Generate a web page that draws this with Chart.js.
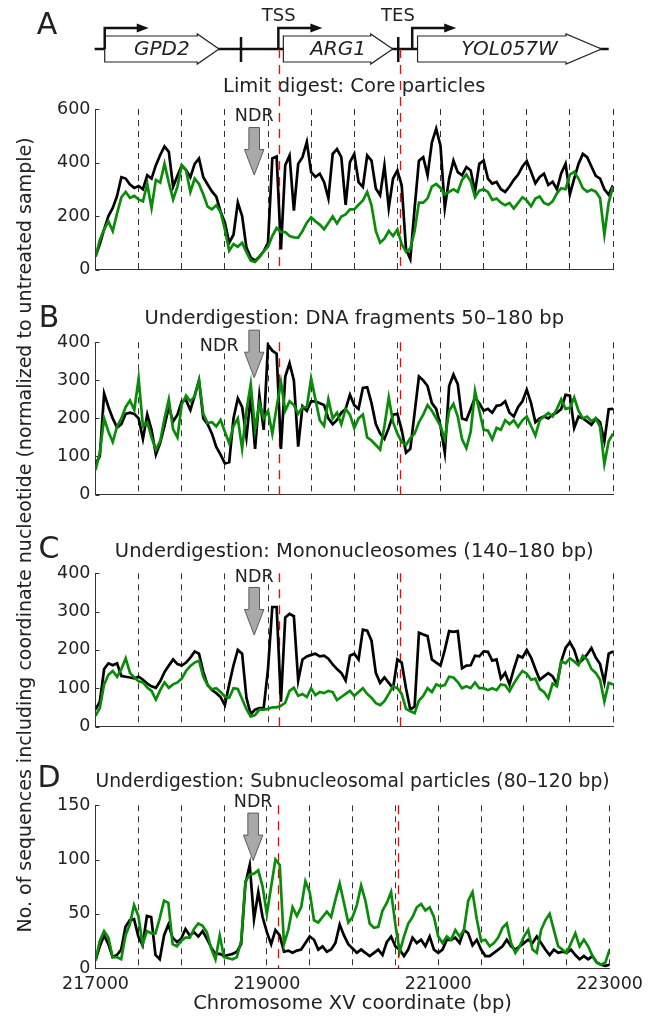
<!DOCTYPE html>
<html>
<head>
<meta charset="utf-8">
<script src="https://cdn.jsdelivr.net/npm/chart.js@4.4.0/dist/chart.umd.min.js"></script>
<style>
	html, body { margin: 0; padding: 0; background: #fff; }
	#page { position: relative; width: 649px; height: 1016px; overflow: hidden; font-family: "DejaVu Sans", sans-serif; color: #222; }
	.panel { position: absolute; left: 0; }
	.letter { position: absolute; font-size: 30px; line-height: 1; transform: translate(-50%, -50%); }
	#ylabel { position: absolute; left: 24px; top: 535px; white-space: nowrap; font-size: 19px; line-height: 1; transform: translate(-50%, -50%) rotate(-90deg); }
</style>
</head>
<body>
<div id="page">
	<canvas id="chartA" class="panel" width="649" height="285" style="top:0px"></canvas>
	<canvas id="chartB" class="panel" width="649" height="215" style="top:295px"></canvas>
	<canvas id="chartC" class="panel" width="649" height="217" style="top:525px"></canvas>
	<canvas id="chartD" class="panel" width="649" height="259" style="top:757px"></canvas>
	<div class="letter" style="left:47px; top:24px">A</div>
	<div class="letter" style="left:49px; top:317px">B</div>
	<div class="letter" style="left:49px; top:548px">C</div>
	<div class="letter" style="left:49px; top:777px">D</div>
	<div id="ylabel">No. of sequences including coordinate nucleotide (normalized to untreated sample)</div>
</div>
<script>
// chromosome XV positions, one reading every 50 bp
const coordStart = 217000;
const coordStep = 50;
const coords = Array.from({ length: 121 }, (_, i) => coordStart + coordStep * i);

// A: limit digest, core particles
const coreBlack = [
	48, 95, 150, 200, 230, 275, 345, 340, 318, 305,
	312, 300, 352, 340, 390, 428, 460, 440, 310, 350,
	389, 372, 345, 395, 415, 345, 318, 292, 272, 217,
	175, 100, 130, 250, 200, 82, 45, 33, 48, 68,
	100, 415, 422, 75, 390, 426, 220, 395, 420, 477,
	364, 346, 358, 327, 266, 432, 450, 420, 242, 401,
	432, 327, 309, 426, 407, 303, 278, 389, 230, 340,
	370, 315, 76, 39, 230, 407, 420, 352, 475, 526,
	462, 230, 340, 407, 364, 352, 383, 370, 291, 395,
	407, 340, 321, 327, 300, 290, 310, 335, 355, 385,
	405, 365, 322, 346, 358, 316, 328, 300, 360, 395,
	280, 340, 395, 432, 420, 385, 350, 340, 300, 280,
	315,
];
const coreGreen = [
	48, 110, 150, 180, 144, 210, 270, 290, 268, 275,
	262, 255, 320, 230, 335, 325, 395, 325, 262, 310,
	390, 370, 290, 340, 320, 280, 235, 225, 240, 215,
	150, 70, 95, 85, 100, 65, 33, 28, 45, 68,
	85, 125, 155, 140, 140, 125, 120, 119, 144, 175,
	195, 180, 168, 150, 174, 198, 172, 198, 206, 225,
	225, 242, 258, 290, 240, 144, 100, 115, 144, 125,
	150, 95, 66, 78, 144, 250, 250, 266, 310, 320,
	305, 280, 290, 300, 290, 335, 355, 330, 270, 295,
	300, 290, 260, 265, 250, 240, 249, 228, 249, 270,
	258, 236, 265, 273, 249, 242, 255, 285, 304, 300,
	355, 365, 340, 304, 291, 298, 291, 267, 130, 250,
	310,
];

// B: underdigestion, DNA fragments 50-180 bp
const fragBlack = [
	80, 100, 265, 230, 200, 176, 185, 212, 215, 212,
	200, 146, 210, 170, 105, 136, 180, 230, 192, 210,
	245, 248, 222, 260, 300, 200, 185, 160, 125, 105,
	82, 85, 200, 253, 230, 150, 260, 120, 260, 170,
	393, 378, 370, 120, 310, 345, 300, 126, 232, 220,
	245, 245, 240, 235, 200, 185, 196, 215, 225, 262,
	235, 225, 280, 282, 240, 185, 160, 146, 175, 210,
	212, 170, 110, 120, 215, 310, 300, 285, 240, 225,
	180, 110, 285, 315, 290, 200, 196, 225, 255, 240,
	220, 225, 215, 233, 235, 245, 215, 205, 230, 245,
	275, 240, 190, 200, 205, 200, 210, 215, 225, 262,
	260, 175, 205, 200, 192, 183, 200, 190, 140, 224,
	225,
];
const fragGreen = [
	64, 110, 200, 165, 138, 179, 200, 230, 247, 222,
	305, 179, 190, 150, 118, 140, 200, 250, 171, 150,
	237, 260, 245, 258, 300, 212, 188, 190, 179, 196,
	165, 135, 180, 200, 120, 220, 290, 170, 240, 200,
	220, 160, 230, 295, 220, 245, 235, 212, 229, 230,
	305, 250, 195, 180, 250, 200, 215, 185, 225, 210,
	175, 200, 210, 150, 142, 130, 118, 180, 255, 190,
	160, 138, 130, 148, 160, 190, 210, 235, 220, 200,
	180, 145, 220, 238, 205, 145, 122, 165, 272, 220,
	170, 168, 145, 175, 170, 195, 185, 195, 178, 195,
	205, 180, 155, 195, 205, 214, 205, 225, 250, 225,
	228, 255, 220, 200, 205, 193, 200, 178, 80, 140,
	160,
];

// C: underdigestion, mononucleosomes 140-180 bp
const monoBlack = [
	44, 65, 150, 165, 160, 165, 132, 130, 128, 126,
	130, 122, 112, 105, 101, 118, 142, 159, 175, 163,
	159, 167, 180, 196, 190, 142, 108, 95, 87, 77,
	56, 110, 160, 200, 190, 75, 32, 44, 48, 48,
	150, 312, 312, 65, 285, 294, 288, 120, 175, 183,
	187, 190, 183, 185, 177, 162, 150, 140, 120, 185,
	190, 175, 253, 250, 224, 140, 114, 128, 114, 100,
	175, 167, 100, 44, 52, 245, 240, 236, 175, 167,
	159, 200, 249, 247, 249, 152, 159, 160, 185, 183,
	196, 195, 172, 175, 125, 140, 110, 150, 185, 180,
	200, 180, 150, 122, 131, 139, 131, 110, 170, 205,
	220, 200, 165, 175, 188, 205, 180, 163, 115, 190,
	196,
];
const monoGreen = [
	28, 48, 110, 135, 145, 130, 150, 178, 140, 128,
	118, 115, 102, 93, 70, 95, 115, 101, 110, 115,
	125, 145, 158, 167, 172, 130, 108, 97, 100, 90,
	78, 75, 100, 98, 72, 45, 26, 30, 44, 44,
	46, 50, 50, 54, 62, 93, 101, 80, 85, 77,
	100, 82, 90, 87, 93, 90, 69, 77, 85, 93,
	80, 90, 100, 85, 75, 61, 56, 66, 85, 105,
	100, 85, 46, 40, 35, 68, 80, 100, 90, 110,
	105, 108, 130, 128, 116, 100, 105, 100, 115, 100,
	100, 95, 100, 95, 110, 108, 92, 112, 130, 145,
	138, 122, 125, 98, 90, 74, 112, 105, 170, 165,
	178, 170, 160, 185, 175, 150, 140, 122, 65, 114,
	110,
];

// D: underdigestion, subnucleosomal particles 80-120 bp
const subBlack = [
	7, 20, 30, 22, 10, 12, 17, 38, 44, 45,
	29, 21, 48, 47, 12, 8, 30, 40, 28, 24,
	27, 36, 30, 33, 29, 34, 27, 19, 13, 13,
	11, 12, 13, 15, 22, 78, 95, 45, 70, 47,
	33, 22, 35, 30, 15, 16, 14, 16, 17, 23,
	29, 26, 17, 20, 15, 17, 23, 40, 30, 22,
	18, 14, 17, 14, 11, 14, 17, 12, 24, 29,
	20, 17, 11, 17, 28, 23, 26, 20, 29, 17,
	14, 17, 26, 26, 28, 23, 35, 32, 21, 26,
	17, 11, 11, 14, 17, 20, 26, 20, 17, 20,
	23, 26, 23, 29, 23, 17, 12, 17, 14, 15,
	14, 17, 12, 8, 11, 8, 11, 5, 3, 2,
	3,
];
const subGreen = [
	7, 25, 34, 28, 10, 10, 8, 30, 40, 58,
	48, 22, 34, 32, 32, 46, 62, 60, 22, 20,
	25, 28, 28, 36, 41, 39, 33, 18, 8, 30,
	10, 9, 8, 10, 25, 80, 86, 87, 90, 75,
	50, 75, 100, 95, 22, 35, 56, 48, 56, 80,
	70, 44, 42, 47, 52, 47, 63, 78, 60, 42,
	47, 58, 76, 62, 41, 37, 38, 53, 60, 70,
	40, 15, 29, 41, 47, 56, 59, 53, 56, 47,
	29, 23, 29, 26, 35, 29, 35, 62, 70, 45,
	25, 26, 20, 23, 28, 37, 41, 23, 14, 20,
	29, 35, 17, 14, 35, 44, 50, 35, 20, 17,
	14, 23, 32, 20, 26, 20, 11, 5, 3, 5,
	17,
];

// gene map (bp)
const geneNames = ["GPD2", "ARG1", "YOL057W"];
const geneStarts = [217107, 219178, 220734];
const geneHeadStarts = [218180, 220191, 222455];
const geneEnds = [218432, 220446, 222866];
const promoters = [217107, 219120, 220672];
const geneMarks = [218687, 220510];
const geneLine = [216990, 222950];
const tssBp = 219125;
const tesBp = 220530;
const ndrBp = 218840;

const FONT = "'DejaVu Sans', sans-serif";
const TEXT = "#222";
const PLOT_LEFT = 95.5;
const PLOT_RIGHT = 613;
const Y_AXIS_W = 60;

function toPoints(values) {
	return coords.map((c, i) => ({ x: c, y: values[i] }));
}

function drawArrow(ctx, px, tipY) {
	// grey block arrow pointing down at the NDR
	const shaftW = 5.3, headW = 9.7, shaftL = 22, headL = 25.5;
	const top = tipY - headL - shaftL;
	ctx.beginPath();
	ctx.moveTo(px - shaftW, top);
	ctx.lineTo(px + shaftW, top);
	ctx.lineTo(px + shaftW, top + shaftL);
	ctx.lineTo(px + headW, top + shaftL);
	ctx.lineTo(px, tipY);
	ctx.lineTo(px - headW, top + shaftL);
	ctx.lineTo(px - shaftW, top + shaftL);
	ctx.closePath();
	ctx.fillStyle = "#a9a9a9";
	ctx.fill();
	ctx.lineWidth = 1;
	ctx.strokeStyle = "#5a5a5a";
	ctx.stroke();
}

function drawGenes(ctx, x) {
	const lineY = 49;
	ctx.save();
	ctx.lineCap = "butt";
	ctx.strokeStyle = "#111";
	ctx.lineWidth = 2.5;
	ctx.beginPath();
	ctx.moveTo(x.getPixelForValue(geneLine[0]), lineY);
	ctx.lineTo(x.getPixelForValue(geneLine[1]), lineY);
	ctx.stroke();

	geneMarks.forEach((bp) => {
		const px = x.getPixelForValue(bp);
		ctx.beginPath();
		ctx.moveTo(px, 37);
		ctx.lineTo(px, 62);
		ctx.stroke();
	});

	geneNames.forEach((name, i) => {
		const x0 = x.getPixelForValue(geneStarts[i]);
		const x1 = x.getPixelForValue(geneHeadStarts[i]);
		const x2 = x.getPixelForValue(geneEnds[i]);
		ctx.beginPath();
		ctx.moveTo(x0, 36);
		ctx.lineTo(x1, 36);
		ctx.lineTo(x1, 34);
		ctx.lineTo(x2, lineY);
		ctx.lineTo(x1, 64);
		ctx.lineTo(x1, 62);
		ctx.lineTo(x0, 62);
		ctx.closePath();
		ctx.fillStyle = "#fff";
		ctx.fill();
		ctx.lineWidth = 1.2;
		ctx.strokeStyle = "#222";
		ctx.stroke();

		ctx.fillStyle = TEXT;
		ctx.font = "oblique 20px " + FONT;
		ctx.textAlign = "center";
		ctx.textBaseline = "middle";
		ctx.fillText(name, (x0 + x2) / 2, lineY + 1);

		// promoter arrow
		const p = x.getPixelForValue(promoters[i]);
		ctx.strokeStyle = "#111";
		ctx.lineWidth = 2.5;
		ctx.beginPath();
		ctx.moveTo(p, lineY);
		ctx.lineTo(p, 28);
		ctx.lineTo(p + 34, 28);
		ctx.stroke();
		ctx.fillStyle = "#111";
		ctx.beginPath();
		ctx.moveTo(p + 32, 23.5);
		ctx.lineTo(p + 44, 28);
		ctx.lineTo(p + 32, 32.5);
		ctx.closePath();
		ctx.fill();
	});

	ctx.fillStyle = TEXT;
	ctx.font = "18px " + FONT;
	ctx.textAlign = "center";
	ctx.textBaseline = "middle";
	ctx.fillText("TSS", x.getPixelForValue(tssBp), 16);
	ctx.fillText("TES", x.getPixelForValue(tesBp) - 2, 16);
	ctx.restore();
}

function drawMarkers(chart, top) {
	// red dashed TSS / TES lines
	const { ctx, chartArea, scales } = chart;
	ctx.save();
	ctx.strokeStyle = "#ff0000";
	ctx.lineWidth = 1.3;
	ctx.setLineDash([9, 7]);
	[tssBp, tesBp].forEach((bp) => {
		const px = Math.round(scales.x.getPixelForValue(bp)) + 0.5;
		ctx.beginPath();
		ctx.moveTo(px, top);
		ctx.lineTo(px, chartArea.bottom);
		ctx.stroke();
	});
	ctx.restore();
}

const decorPlugin = {
	id: "decor",
	beforeDatasetsDraw(chart, args, opts) {
		const { ctx, chartArea, scales } = chart;
		const y = scales.y;
		if (opts.genes) drawGenes(ctx, scales.x);

		// inward y ticks
		ctx.save();
		ctx.strokeStyle = "#333";
		ctx.lineWidth = 1;
		y.ticks.forEach((t) => {
			const py = Math.round(y.getPixelForValue(t.value)) + 0.5;
			ctx.beginPath();
			ctx.moveTo(chartArea.left, py);
			ctx.lineTo(chartArea.left + 4, py);
			ctx.stroke();
		});
		ctx.restore();

		drawMarkers(chart, opts.genes ? 49 : chartArea.top);
	},
	afterDatasetsDraw(chart, args, opts) {
		const { ctx, scales } = chart;
		const px = scales.x.getPixelForValue(ndrBp);
		const tipY = scales.y.getPixelForValue(opts.ndrTip);
		ctx.save();
		drawArrow(ctx, px, tipY);
		ctx.fillStyle = TEXT;
		ctx.font = "17.5px " + FONT;
		ctx.textAlign = "center";
		ctx.textBaseline = "middle";
		ctx.fillText("NDR", px + opts.ndrDx, tipY + opts.ndrDy);
		ctx.restore();
	},
};

function makePanel(id, p) {
	const tickFont = { family: FONT, size: 17.5 };
	return new Chart(document.getElementById(id), {
		type: "line",
		data: {
			datasets: [
				{ data: toPoints(p.green), borderColor: "#0a8c0a", borderWidth: 2.7, pointRadius: 0, order: 0 },
				{ data: toPoints(p.black), borderColor: "#000", borderWidth: 2.7, pointRadius: 0, order: 1 },
			],
		},
		options: {
			responsive: false,
			animation: false,
			devicePixelRatio: 1,
			events: [],
			layout: {
				padding: {
					left: PLOT_LEFT - Y_AXIS_W,
					right: 649 - PLOT_RIGHT,
					top: p.padTop,
					bottom: p.padBottom,
				},
			},
			scales: {
				x: {
					type: "linear",
					min: 217000,
					max: 223000,
					grid: { color: "#333", lineWidth: 1, drawTicks: false },
					border: { display: true, color: "#333", width: 1, dash: [6, 5] },
					ticks: {
						display: p.showX,
						stepSize: 500,
						maxTicksLimit: 20,
						autoSkip: false,
						maxRotation: 0,
						padding: 6,
						color: TEXT,
						font: tickFont,
						callback: (v) => ((v - 217000) % 2000 === 0 ? String(v) : ""),
					},
					title: {
						display: p.showX,
						text: "Chromosome XV coordinate (bp)",
						color: TEXT,
						font: { family: FONT, size: 19.5 },
						padding: 0,
					},
					afterFit: (s) => {
						s.height = p.xAxisH;
					},
				},
				y: {
					min: 0,
					max: p.yMax,
					grid: { drawOnChartArea: false, drawTicks: false },
					border: { display: true, color: "#333", width: 1 },
					ticks: { stepSize: p.yStep, padding: 5, color: TEXT, font: tickFont },
					afterFit: (s) => {
						s.width = Y_AXIS_W;
					},
				},
			},
			plugins: {
				legend: { display: false },
				tooltip: { enabled: false },
				title: {
					display: true,
					text: p.title,
					fullSize: false,
					color: TEXT,
					font: { family: FONT, size: 19.5, weight: "normal" },
					padding: { top: 0, bottom: p.titlePad },
				},
				decor: {
					genes: p.genes,
					ndrTip: p.ndrTip,
					ndrDx: p.ndrDx,
					ndrDy: p.ndrDy,
				},
			},
		},
		plugins: [decorPlugin],
	});
}

makePanel("chartA", {
	title: "Limit digest: Core particles",
	black: coreBlack, green: coreGreen,
	yMax: 600, yStep: 200,
	padTop: 75.3, titlePad: 10.3, padBottom: 13, xAxisH: 0,
	genes: true,
	ndrTip: 353, ndrDx: 0, ndrDy: -59,
	showX: false,
});
makePanel("chartB", {
	title: "Underdigestion: DNA fragments 50\u2013180 bp",
	black: fragBlack, green: fragGreen,
	yMax: 400, yStep: 100,
	padTop: 12.3, titlePad: 11.6, padBottom: 5.7, xAxisH: 0,
	genes: false,
	ndrTip: 307, ndrDx: -35, ndrDy: -31,
	showX: false,
});
makePanel("chartC", {
	title: "Underdigestion: Mononucleosomes (140\u2013180 bp)",
	black: monoBlack, green: monoGreen,
	yMax: 400, yStep: 100,
	padTop: 15, titlePad: 9.9, padBottom: 5.7, xAxisH: 0,
	genes: false,
	ndrTip: 239, ndrDx: 0, ndrDy: -58,
	showX: false,
});
makePanel("chartD", {
	title: "Underdigestion: Subnucleosomal particles (80\u2013120 bp)",
	black: subBlack, green: subGreen,
	yMax: 150, yStep: 50,
	padTop: 13, titlePad: 11.9, padBottom: 0, xAxisH: 48,
	genes: false,
	ndrTip: 99, ndrDx: 0, ndrDy: -58,
	showX: true,
});
</script>
</body>
</html>
